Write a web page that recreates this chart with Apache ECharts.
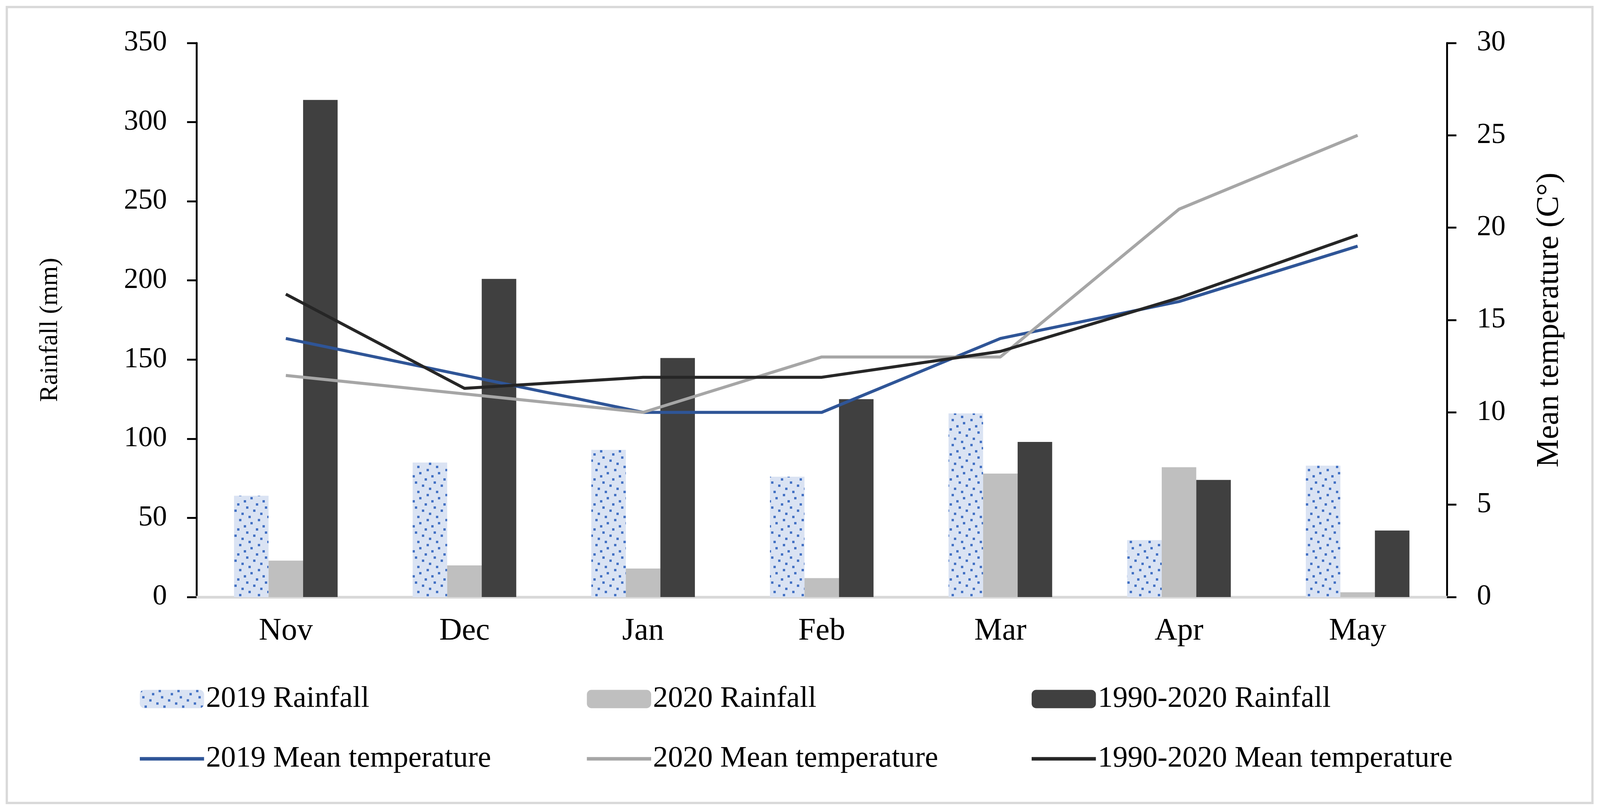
<!DOCTYPE html>
<html>
<head>
<meta charset="utf-8">
<script src="https://cdn.jsdelivr.net/npm/echarts@6/dist/echarts.min.js"></script>
<style>html,body{margin:0;padding:0;background:#fff;overflow:hidden}#c{width:100vw;height:100vh}</style>
</head>
<body>
<div id="c"></div>
<script>
const categories = ['Nov', 'Dec', 'Jan', 'Feb', 'Mar', 'Apr', 'May'];
const rain2019 = [64, 85, 93, 76, 116, 36, 83];
const rain2020 = [23, 20, 18, 12, 78, 82, 3];
const rainLongTerm = [314, 201, 151, 125, 98, 74, 42];
const temp2019 = [14.0, 12.0, 10.0, 10.0, 14.0, 16.0, 19.0];
const temp2020 = [12.0, 11.0, 10.0, 13.0, 13.0, 21.0, 25.0];
const tempLongTerm = [16.4, 11.3, 11.9, 11.9, 13.3, 16.2, 19.6];
const rainTicks = { min: 0, max: 350, interval: 50 };
const tempTicks = { min: 0, max: 30, interval: 5 };

const el = document.getElementById('c');
const W = el.clientWidth || window.innerWidth;
const H = el.clientHeight || window.innerHeight;
const sx = W / 4234, sy = H / 2073;
const X = v => v * sx;          // horizontal sizes
const Y = v => v * sy;          // vertical sizes
const F = v => v * Math.min(sx, sy); // fonts / strokes

// dotted fill pattern for 2019 rainfall
const pc = document.createElement('canvas');
const dpr = window.devicePixelRatio || 1;
const tw = Math.round(50 * sx * dpr), th = Math.round(64 * sy * dpr);
pc.width = tw; pc.height = th;
const g = pc.getContext('2d');
g.fillStyle = '#DAE3F3';
g.fillRect(0, 0, tw, th);
g.fillStyle = '#4472C4';
const dw = Math.max(2, Math.round(6 * sx * dpr)), dh = Math.max(2, Math.round(6 * sy * dpr));
[0, 32, 6, 25, 43, 12, 37, 18].forEach((ox, i) =>
  g.fillRect(Math.round(ox * sx * dpr), Math.round(i * 8 * sy * dpr), dw, dh));
const dotted = { image: pc, repeat: 'repeat' };

const FONT = 'Liberation Serif';
const chart = echarts.init(el);

function leg(name, left, top, isLine) {
  return {
    data: [isLine ? { name: name, icon: 'rect' } : name],
    left: X(left), top: Y(top), padding: 0,
    itemWidth: X(170), itemHeight: Y(isLine ? 9 : 47), itemGap: 0,
    textStyle: { fontFamily: FONT, fontSize: F(79), color: '#000', lineHeight: Y(47) },
    selectedMode: false
  };
}

chart.setOption({
  backgroundColor: '#fff',
  animation: false,
  graphic: [{
    type: 'rect', shape: { x: X(18), y: Y(18), width: X(4196), height: Y(2037) },
    style: { fill: 'none', stroke: '#D9D9D9', lineWidth: F(6) }, silent: true
  }],
  legend: [
    leg('2019 Rainfall', 370, 1751, false),
    leg('2020 Rainfall', 1553, 1751, false),
    leg('1990-2020 Rainfall', 2730, 1751, false),
    leg('2019 Mean temperature', 370, 1904, true),
    leg('2020 Mean temperature', 1553, 1904, true),
    leg('1990-2020 Mean temperature', 2730, 1904, true)
  ],
  grid: { left: X(520), right: X(405), top: Y(110), bottom: Y(545), containLabel: false },
  xAxis: {
    type: 'category', data: categories, boundaryGap: true,
    axisLine: { lineStyle: { color: '#D9D9D9', width: F(7) } },
    axisTick: { show: false },
    axisLabel: { fontFamily: FONT, fontSize: F(83), color: '#000', margin: Y(48) }
  },
  yAxis: [{
    type: 'value', min: rainTicks.min, max: rainTicks.max, interval: rainTicks.interval,
    name: 'Rainfall (mm)', nameLocation: 'middle', nameGap: X(353),
    nameTextStyle: { fontFamily: FONT, fontSize: F(67), color: '#000', padding: [0, Y(50), 0, 0] },
    axisLine: { show: true, lineStyle: { color: '#000', width: F(5) } },
    axisTick: { show: true, length: X(25), lineStyle: { color: '#000', width: F(5) } },
    splitLine: { show: false },
    axisLabel: { fontFamily: FONT, fontSize: F(76), color: '#000', margin: X(78) }
  }, {
    type: 'value', min: tempTicks.min, max: tempTicks.max, interval: tempTicks.interval,
    position: 'right',
    name: 'Mean temperature (C°)', nameLocation: 'middle', nameGap: X(229), nameRotate: 90,
    nameTextStyle: { fontFamily: FONT, fontSize: F(84), color: '#000' },
    axisLine: { show: true, lineStyle: { color: '#000', width: F(5) } },
    axisTick: { show: true, length: X(25), lineStyle: { color: '#000', width: F(5) } },
    splitLine: { show: false },
    axisLabel: { fontFamily: FONT, fontSize: F(76), color: '#000', margin: X(79) }
  }],
  series: [
    { name: '2019 Rainfall', type: 'bar', data: rain2019, barGap: '0%', barCategoryGap: '42%',
      itemStyle: { color: dotted } },
    { name: '2020 Rainfall', type: 'bar', data: rain2020, barGap: '0%', barCategoryGap: '42%',
      itemStyle: { color: '#BFBFBF' } },
    { name: '1990-2020 Rainfall', type: 'bar', data: rainLongTerm, barGap: '0%', barCategoryGap: '42%',
      itemStyle: { color: '#404040' } },
    { name: '2019 Mean temperature', type: 'line', yAxisIndex: 1, data: temp2019, symbol: 'none',
      lineStyle: { color: '#2F5597', width: F(8) }, itemStyle: { color: '#2F5597' }, z: 3 },
    { name: '2020 Mean temperature', type: 'line', yAxisIndex: 1, data: temp2020, symbol: 'none',
      lineStyle: { color: '#A6A6A6', width: F(8) }, itemStyle: { color: '#A6A6A6' }, z: 4 },
    { name: '1990-2020 Mean temperature', type: 'line', yAxisIndex: 1, data: tempLongTerm, symbol: 'none',
      lineStyle: { color: '#262626', width: F(8) }, itemStyle: { color: '#262626' }, z: 5 }
  ]
});
</script>
</body>
</html>
